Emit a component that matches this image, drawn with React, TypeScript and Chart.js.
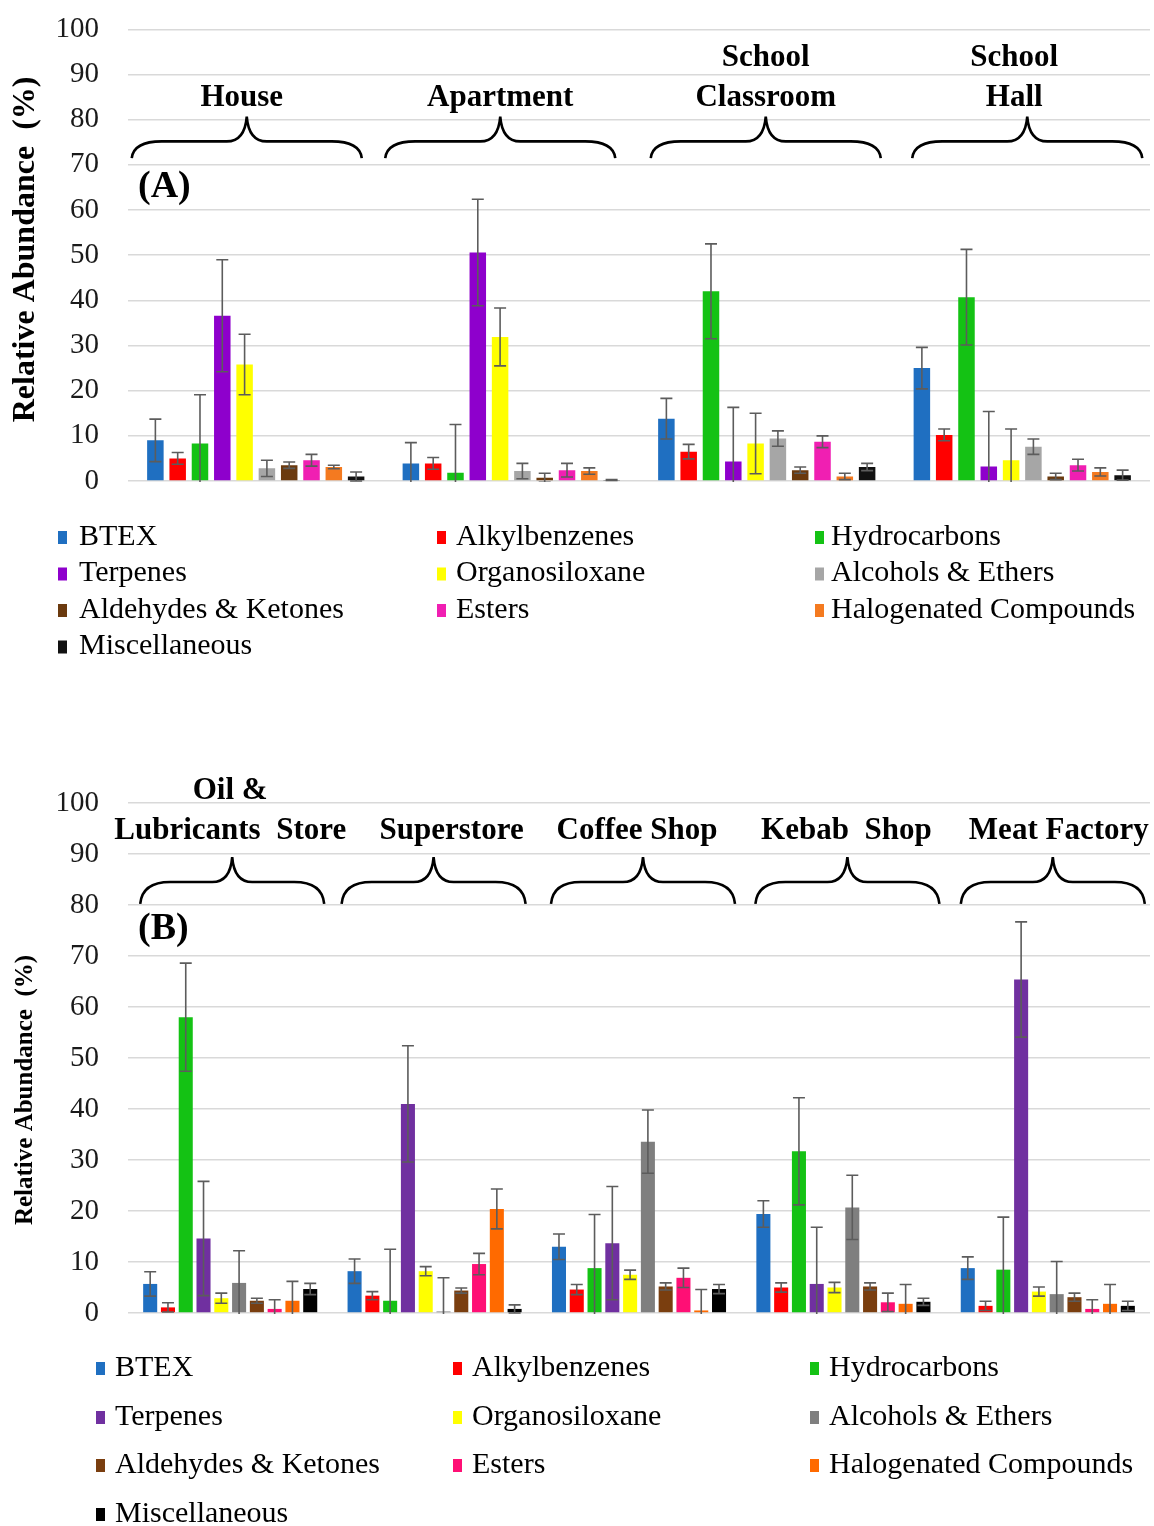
import React, { useEffect, useRef } from "react";
import { Chart, registerables } from "chart.js";

Chart.register(...registerables);
Chart.defaults.font.family = '"Liberation Serif", "Times New Roman", serif';

// ---------- DATA ----------
const seriesNames = [
  "BTEX",
  "Alkylbenzenes",
  "Hydrocarbons",
  "Terpenes",
  "Organosiloxane",
  "Alcohols & Ethers",
  "Aldehydes & Ketones",
  "Esters",
  "Halogenated Compounds",
  "Miscellaneous",
];

const categoriesA = [["House"], ["Apartment"], ["School", "Classroom"], ["School", "Hall"]];
const categoriesB = [["Oil &", "Lubricants  Store"], ["Superstore"], ["Coffee Shop"], ["Kebab  Shop"], ["Meat Factory"]];

const yTicks = [0, 10, 20, 30, 40, 50, 60, 70, 80, 90, 100];

// Panel A – mean relative abundance (%) per series, and error (±)
const houseMean = [9.0, 5.0, 8.3, 36.6, 25.8, 2.8, 3.5, 4.6, 3.1, 1.0];
const houseErr = [4.7, 1.3, 10.8, 12.4, 6.7, 1.8, 0.7, 1.3, 0.4, 1.0];
const apartmentMean = [3.9, 3.9, 1.8, 50.6, 31.9, 2.2, 0.7, 2.4, 2.2, 0.2];
const apartmentErr = [4.6, 1.3, 10.7, 11.8, 6.4, 1.7, 1.0, 1.5, 0.7, 0.1];
const classroomMean = [13.8, 6.5, 42.0, 4.3, 8.3, 9.4, 2.4, 8.7, 1.0, 3.1];
const classroomErr = [4.5, 1.6, 10.5, 12.0, 6.7, 1.7, 0.7, 1.3, 0.7, 0.8];
const hallMean = [25.0, 10.2, 40.7, 3.2, 4.6, 7.6, 1.0, 3.5, 2.0, 1.3];
const hallErr = [4.6, 1.3, 10.6, 12.2, 6.9, 1.7, 0.7, 1.3, 0.9, 1.1];

// Panel B
const oilMean = [5.7, 1.1, 58.0, 14.6, 2.9, 5.9, 2.4, 0.8, 2.4, 4.7];
const oilErr = [2.4, 0.9, 10.6, 11.2, 1.0, 6.3, 0.5, 1.8, 3.8, 1.1];
const superMean = [8.2, 3.4, 2.4, 41.0, 8.2, 0.3, 4.4, 9.6, 20.4, 0.8];
const superErr = [2.4, 0.8, 10.1, 11.4, 0.9, 6.6, 0.5, 2.1, 3.9, 0.8];
const coffeeMean = [13.0, 4.6, 8.8, 13.7, 7.5, 33.6, 5.2, 6.9, 0.5, 4.7];
const coffeeErr = [2.5, 1.0, 10.5, 11.1, 0.9, 6.2, 0.7, 1.9, 4.1, 0.9];
const kebabMean = [19.4, 5.0, 31.7, 5.7, 5.0, 20.7, 5.2, 2.1, 1.8, 2.2];
const kebabErr = [2.6, 0.9, 10.5, 11.1, 1.0, 6.3, 0.7, 1.8, 3.8, 0.7];
const meatMean = [8.8, 1.4, 8.5, 65.4, 4.2, 3.7, 3.1, 0.8, 1.8, 1.4];
const meatErr = [2.2, 0.9, 10.3, 11.3, 0.9, 6.4, 0.8, 1.8, 3.8, 0.9];

// ---------- STYLE ----------
const colorsA = ["#1F6FC1", "#FF0000", "#14C214", "#8E00CC", "#FFFF00", "#A6A6A6", "#6B3A0E", "#F01FB2", "#F47A20", "#111111"];
const colorsB = ["#1F6FC1", "#FF0000", "#14C214", "#7030A0", "#FFFF00", "#7F7F7F", "#7A3E0F", "#FF0F75", "#FF6A00", "#000000"];

const FONT = '"Liberation Serif", "Times New Roman", serif';

type PanelCfg = {
  categories: string[][];
  means: number[][];
  errs: number[][];
  colors: string[];
  width: number;
  height: number;
  pad: { top: number; bottom: number; left: number; right: number };
  axisWidth: number;
  barPct: number;
  catPct: number;
  letter: string;
  letterValue: number;
  brace: { end: number; mid: number; tip: number; halfWidth: number; shifts: number[] };
  labelValue: number;
  labelShifts: number[];
  yTitleFont: number;
  yTitleY: number; // offset from chartArea.top
  legend: { rows: number[]; squareX: number[]; textX: number[] };
};

const panelA: PanelCfg = {
  categories: categoriesA,
  means: [houseMean, apartmentMean, classroomMean, hallMean],
  errs: [houseErr, apartmentErr, classroomErr, hallErr],
  colors: colorsA,
  width: 1154,
  height: 707,
  pad: { top: 11, bottom: 209, left: 0, right: 4 },
  axisWidth: 128,
  barPct: 0.74,
  catPct: 0.873,
  letter: "(A)",
  letterValue: 65.1,
  brace: { end: 71.5, mid: 75.2, tip: 80.7, halfWidth: 115, shifts: [-9, -11, -1, 5] },
  labelValue: 84.8,
  labelShifts: [-14, -11, -1, -8],
  yTitleFont: 32,
  yTitleY: 220,
  legend: { rows: [56, 92.5, 129, 165.5], squareX: [58, 437, 815], textX: [79, 456, 831] },
};

const panelB: PanelCfg = {
  categories: categoriesB,
  means: [oilMean, superMean, coffeeMean, kebabMean, meatMean],
  errs: [oilErr, superErr, coffeeErr, kebabErr, meatErr],
  colors: colorsB,
  width: 1154,
  height: 836,
  pad: { top: 113, bottom: 213, left: 0, right: 4 },
  axisWidth: 128,
  barPct: 0.79,
  catPct: 0.87,
  letter: "(B)",
  letterValue: 75.3,
  brace: { end: 80.2, mid: 84.5, tip: 89.4, halfWidth: 92, shifts: [2, -1, 4, 4, 5] },
  labelValue: 94.5,
  labelShifts: [0, 17, -2, 3, 11],
  yTitleFont: 25,
  yTitleY: 287,
  legend: { rows: [55, 104, 152, 201], squareX: [96, 453, 810], textX: [115, 472, 829] },
};

function drawBrace(ctx: CanvasRenderingContext2D, xL: number, xR: number, xT: number, yEnd: number, yMid: number, yTip: number) {
  const r = 30;
  const rt = 20;
  ctx.beginPath();
  ctx.moveTo(xL, yEnd);
  ctx.quadraticCurveTo(xL + 2, yMid, xL + r, yMid);
  ctx.lineTo(xT - rt, yMid);
  ctx.quadraticCurveTo(xT - 2, yMid, xT, yTip);
  ctx.moveTo(xR, yEnd);
  ctx.quadraticCurveTo(xR - 2, yMid, xR - r, yMid);
  ctx.lineTo(xT + rt, yMid);
  ctx.quadraticCurveTo(xT + 2, yMid, xT, yTip);
  ctx.stroke();
}

function makePlugin(cfg: PanelCfg) {
  return {
    id: "decor",
    afterDatasetsDraw(chart: any) {
      const ctx: CanvasRenderingContext2D = chart.ctx;
      const y = chart.scales.y;
      const a = chart.chartArea;
      ctx.save();
      ctx.beginPath();
      ctx.rect(a.left, a.top, a.right - a.left, a.bottom - a.top + 1);
      ctx.clip();
      ctx.strokeStyle = "#5c5c5c";
      ctx.lineWidth = 1.6;
      const cap = 6;
      chart.data.datasets.forEach((ds: any, di: number) => {
        const meta = chart.getDatasetMeta(di);
        meta.data.forEach((el: any, i: number) => {
          const v = ds.data[i];
          const e = ds.errors[i];
          const x = el.x;
          const yT = y.getPixelForValue(v + e);
          const yB = y.getPixelForValue(v - e);
          ctx.beginPath();
          ctx.moveTo(x, yT);
          ctx.lineTo(x, yB);
          ctx.moveTo(x - cap, yT);
          ctx.lineTo(x + cap, yT);
          ctx.moveTo(x - cap, yB);
          ctx.lineTo(x + cap, yB);
          ctx.stroke();
        });
      });
      ctx.restore();
    },
    afterDraw(chart: any) {
      const ctx: CanvasRenderingContext2D = chart.ctx;
      const y = chart.scales.y;
      const x = chart.scales.x;
      const a = chart.chartArea;
      ctx.save();
      // braces + location labels
      ctx.strokeStyle = "#000";
      ctx.lineWidth = 2.6;
      ctx.fillStyle = "#000";
      ctx.font = `bold 31px ${FONT}`;
      ctx.textAlign = "center";
      ctx.textBaseline = "middle";
      cfg.categories.forEach((lines, i) => {
        const cx = x.getPixelForValue(i);
        const xt = cx + cfg.brace.shifts[i];
        drawBrace(
          ctx,
          xt - cfg.brace.halfWidth,
          xt + cfg.brace.halfWidth,
          xt,
          y.getPixelForValue(cfg.brace.end),
          y.getPixelForValue(cfg.brace.mid),
          y.getPixelForValue(cfg.brace.tip)
        );
        const lx = cx + cfg.labelShifts[i];
        const ly = y.getPixelForValue(cfg.labelValue);
        lines.forEach((t, k) => {
          ctx.fillText(t, lx, ly - (lines.length - 1 - k) * 40);
        });
      });
      // panel letter
      ctx.font = `bold 38px ${FONT}`;
      ctx.textAlign = "left";
      ctx.fillText(cfg.letter, a.left + 10, y.getPixelForValue(cfg.letterValue));
      // y title
      ctx.save();
      ctx.translate(26, a.top + cfg.yTitleY);
      ctx.rotate(-Math.PI / 2);
      ctx.textAlign = "center";
      ctx.font = `bold ${cfg.yTitleFont}px ${FONT}`;
      ctx.fillText("Relative Abundance  (%)", 0, 0);
      ctx.restore();
      // legend
      ctx.font = `30px ${FONT}`;
      ctx.textAlign = "left";
      chart.data.datasets.forEach((ds: any, i: number) => {
        const row = Math.floor(i / 3);
        const col = i % 3;
        const ry = a.bottom + cfg.legend.rows[row];
        ctx.fillStyle = ds.backgroundColor;
        ctx.fillRect(cfg.legend.squareX[col], ry - 6, 9, 13);
        ctx.fillStyle = "#000";
        ctx.fillText(ds.label, cfg.legend.textX[col], ry);
      });
      ctx.restore();
    },
  };
}

function Panel({ cfg, top }: { cfg: PanelCfg; top: number }) {
  const ref = useRef<HTMLCanvasElement>(null);
  useEffect(() => {
    const datasets = seriesNames.map((name, s) => ({
      label: name,
      data: cfg.means.map((m) => m[s]),
      errors: cfg.errs.map((e) => e[s]),
      backgroundColor: cfg.colors[s],
      borderWidth: 0,
      barPercentage: cfg.barPct,
      categoryPercentage: cfg.catPct,
    }));
    const chart = new Chart(ref.current as HTMLCanvasElement, {
      type: "bar",
      data: { labels: cfg.categories.map((c) => c.join(" ")), datasets: datasets as any },
      options: {
        animation: false,
        responsive: false,
        layout: { padding: cfg.pad },
        plugins: { legend: { display: false }, tooltip: { enabled: false } },
        scales: {
          x: { display: false, grid: { display: false } },
          y: {
            min: 0,
            max: 100,
            afterFit: (s: any) => {
              s.width = cfg.axisWidth;
            },
            afterBuildTicks: (s: any) => {
              s.ticks = yTicks.map((v) => ({ value: v }));
            },
            border: { display: false },
            grid: { color: "#D9D9D9", lineWidth: 1.6, drawTicks: false },
            ticks: { padding: 29, color: "#1a1a1a", font: { size: 29, family: FONT } },
          },
        },
      },
      plugins: [makePlugin(cfg)],
    });
    return () => chart.destroy();
  }, []);
  return (
    <div style={{ position: "absolute", left: 0, top, width: cfg.width, height: cfg.height }}>
      <canvas ref={ref} width={cfg.width} height={cfg.height} style={{ display: "block" }} />
    </div>
  );
}

export default function App() {
  return (
    <div style={{ position: "absolute", left: 0, top: 0, width: 1154, height: 1526, background: "#fff", overflow: "hidden" }}>
      <Panel cfg={panelB} top={690} />
      <Panel cfg={panelA} top={-17} />
    </div>
  );
}
